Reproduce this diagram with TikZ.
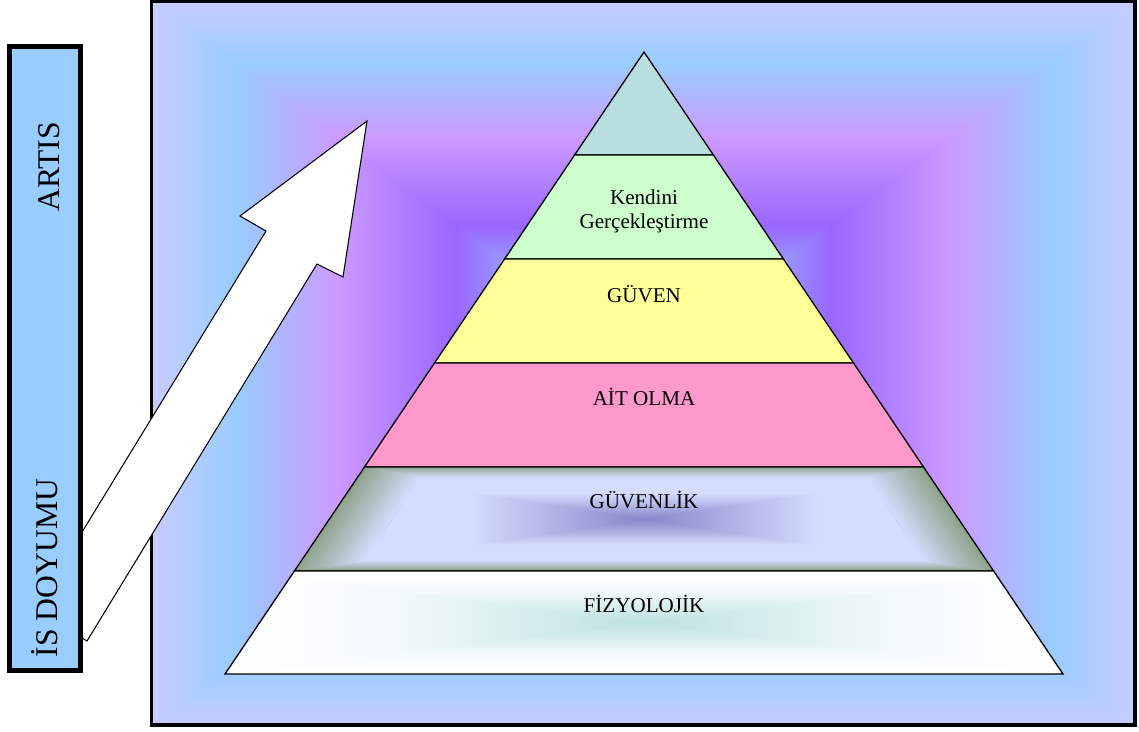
\documentclass[tikz,border=0pt]{standalone}
\usepackage{fontspec}
\setmainfont{Liberation Serif}
\usetikzlibrary{positioning}

% Colours of the background and of the layers
\definecolor{bgedge}{HTML}{C8CCFF}
\definecolor{bgblue}{HTML}{99CCFF}
\definecolor{bgpurple}{HTML}{CC99FF}
\definecolor{bgviolet}{HTML}{9966FF}
\definecolor{bgcore}{HTML}{9A9AFF}
\definecolor{topcol}{HTML}{B8DEE0}
\definecolor{selfcol}{HTML}{CCFFCC}
\definecolor{trustcol}{HTML}{FFFF99}
\definecolor{belongcol}{HTML}{FF99CC}
\definecolor{safeedge}{HTML}{8FA38C}
\definecolor{safemid}{HTML}{D5DDFF}
\definecolor{safecore}{HTML}{8787C9}
\definecolor{physedge}{HTML}{FFFFFF}
\definecolor{physmid}{HTML}{F4FAFA}
\definecolor{physcore}{HTML}{BDE1E1}
\definecolor{barcol}{HTML}{99CCFF}

% Symmetric shadings: edge at 25bp/75bp, centre at 50bp
\pgfdeclareverticalshading{bgshade}{100bp}{color(0bp)=(bgedge); color(25bp)=(bgedge); color(29.25bp)=(bgblue); color(34.5bp)=(bgpurple); color(40.5bp)=(bgviolet); color(43bp)=(bgcore); color(57bp)=(bgcore); color(59.5bp)=(bgviolet); color(65.5bp)=(bgpurple); color(70.75bp)=(bgblue); color(75bp)=(bgedge); color(100bp)=(bgedge)}
\pgfdeclareverticalshading{safeshade}{100bp}{color(0bp)=(safemid); color(37.5bp)=(safemid); color(50bp)=(safecore); color(62.5bp)=(safemid); color(100bp)=(safemid)}
\pgfdeclareverticalshading{physshade}{100bp}{color(0bp)=(physedge); color(25bp)=(physedge); color(35bp)=(physmid); color(50bp)=(physcore); color(65bp)=(physmid); color(75bp)=(physedge); color(100bp)=(physedge)}

\begin{document}
\begin{tikzpicture}[
        x=0.02cm, y=-0.02cm,
        % Style for the pyramid layers and their labels
        layer/.style={draw=black, line width=0.75pt},
        lbl/.style={font=\fontsize{12}{13.7}\selectfont, anchor=base, inner sep=0pt, align=center},
        % Style for the side bar and its labels
        sidebar/.style={draw=black, line width=2.85pt, fill=barcol},
        sidelbl/.style={font=\fontsize{18}{20}\selectfont, rotate=90, anchor=base, inner sep=0pt}
    ]
    \useasboundingbox (0,0) rectangle (1139,731);

    % Background frame
    \shade[shading=bgshade] (151.5,1.7) rectangle (1135,725);
    \shade[shading=bgshade, shading angle=90] (151.5,1.7) -- (643.25,363.35) -- (151.5,725) -- cycle
        (1135,1.7) -- (643.25,363.35) -- (1135,725) -- cycle;
    \draw[line width=2pt] (151.5,1.7) rectangle (1135,725);

    % Upper layers
    \filldraw[layer, fill=topcol] (644,52) -- (713.4,155) -- (574.6,155) -- cycle;
    \filldraw[layer, fill=selfcol] (574.6,155) -- (713.4,155) -- (783.4,259) -- (504.6,259) -- cycle;
    \filldraw[layer, fill=trustcol] (504.6,259) -- (783.4,259) -- (853.5,363) -- (434.5,363) -- cycle;
    \filldraw[layer, fill=belongcol] (434.5,363) -- (853.5,363) -- (923.5,467) -- (364.5,467) -- cycle;

    % Lower layers with gradients
    \begin{scope}
        \clip (364.5,467) -- (923.5,467) -- (993.6,571) -- (294.4,571) -- cycle;
        \foreach \i in {0,...,40}{
            \pgfmathsetmacro{\s}{1-\i*0.005}
            \pgfmathsetmacro{\p}{\i*100/40}
            \fill[safemid!\p!safeedge, scale around={\s:(644,519)}]
                (364.5,467) -- (923.5,467) -- (993.6,571) -- (294.4,571) -- cycle;
        }
        \begin{scope}
            \clip[scale around={0.8:(644,519)}] (364.5,467) -- (923.5,467) -- (993.6,571) -- (294.4,571) -- cycle;
            \shade[shading=safeshade] (294.4,467) rectangle (993.6,571);
            \shade[shading=safeshade, shading angle=90] (294.4,467) -- (644,519) -- (294.4,571) -- cycle
                (993.6,467) -- (644,519) -- (993.6,571) -- cycle;
        \end{scope}
    \end{scope}
    \draw[layer] (364.5,467) -- (923.5,467) -- (993.6,571) -- (294.4,571) -- cycle;
    \begin{scope}
        \clip (294.4,571) -- (993.6,571) -- (1063,674) -- (225,674) -- cycle;
        \shade[shading=physshade] (225,571) rectangle (1063,674);
        \shade[shading=physshade, shading angle=90] (225,571) -- (644,622.5) -- (225,674) -- cycle
            (1063,571) -- (644,622.5) -- (1063,674) -- cycle;
    \end{scope}
    \draw[layer] (294.4,571) -- (993.6,571) -- (1063,674) -- (225,674) -- cycle;

    % Layer labels
    \node[lbl, anchor=center] (self) at (644,211) {Kendini\\Gerçekleştirme};
    \node[lbl] (trust) at (644,302) {GÜVEN};
    \node[lbl] (belong) at (644,405) {AİT OLMA};
    \node[lbl] (safety) at (644,508) {GÜVENLİK};
    \node[lbl] (physio) at (644,612) {FİZYOLOJİK};

    % Rising arrow
    \filldraw[fill=white, draw=black, line width=0.6pt] (35,609) -- (266,231) -- (240,216) -- (367,121)
        -- (343,277) -- (317,264) -- (87,641) -- cycle;

    % Side bar
    \draw[sidebar] (9.5,46.5) rectangle (80.5,670.5);
    \node[sidelbl] (rise) at (59,167) {ARTIS};
    \node[sidelbl] (satisfaction) at (57,568) {İS DOYUMU};
\end{tikzpicture}
\end{document}
